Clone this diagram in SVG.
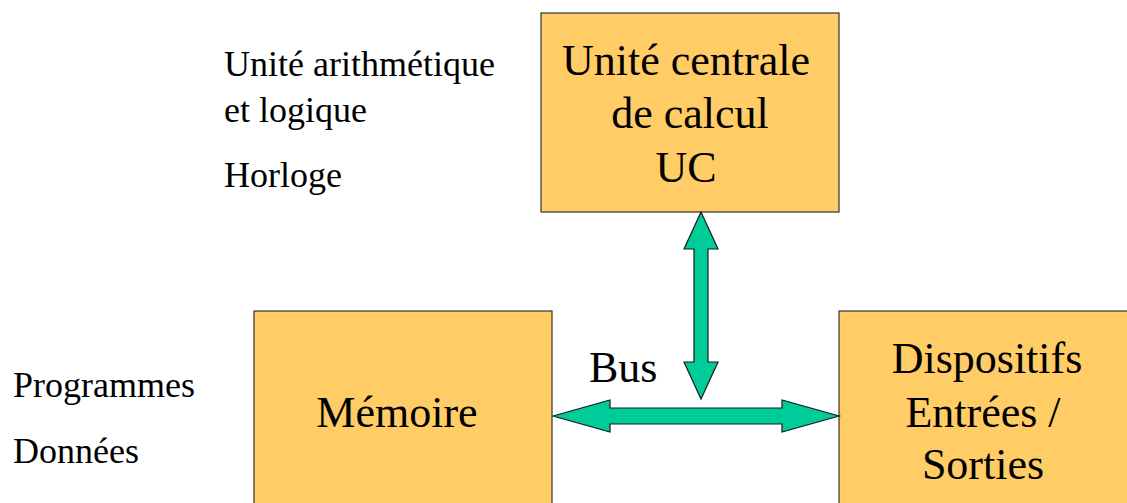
<svg xmlns="http://www.w3.org/2000/svg" width="1127" height="503" viewBox="0 0 1127 503">
  <style>
    .box { fill: #FFCC66; stroke: #333333; stroke-width: 1.2; }
    .bus { fill: #00CC99; stroke: #1a1a1a; stroke-width: 1.2; stroke-linejoin: miter; }
    text { font-family: 'Liberation Serif', Tinos, 'DejaVu Serif', serif; fill: #000; }
    .big { font-size: 44px; }
    .small { font-size: 36px; }
  </style>
  <rect width="1127" height="503" fill="#FFFFFF"/>

  <!-- Side annotations -->
  <g id="notes-uc">
    <text class="small" x="224" y="76">Unité arithmétique</text>
    <text class="small" x="224" y="122">et logique</text>
    <text class="small" x="224" y="187">Horloge</text>
  </g>
  <g id="notes-memoire">
    <text class="small" x="13" y="397">Programmes</text>
    <text class="small" x="13" y="463">Données</text>
  </g>

  <!-- Central processing unit -->
  <g id="node-uc">
    <rect class="box" x="541" y="13" width="298" height="199"/>
    <text class="big" x="686" y="75" text-anchor="middle">Unité centrale</text>
    <text class="big" x="690" y="128" text-anchor="middle">de calcul</text>
    <text class="big" x="686" y="182" text-anchor="middle">UC</text>
  </g>

  <!-- Memory -->
  <g id="node-memoire">
    <rect class="box" x="254" y="311" width="298" height="200"/>
    <text class="big" x="397" y="427" text-anchor="middle">Mémoire</text>
  </g>

  <!-- Input / output devices -->
  <g id="node-es">
    <rect class="box" x="839" y="311" width="300" height="200"/>
    <text class="big" x="987" y="373" text-anchor="middle">Dispositifs</text>
    <text class="big" x="983" y="427" text-anchor="middle">Entrées /</text>
    <text class="big" x="983" y="479" text-anchor="middle">Sorties</text>
  </g>

  <!-- Bus connectors: double-headed block arrows -->
  <g id="connectors">
    <path class="bus" d="M701,212 L718,249 L708,249 L708,362 L718,362 L701,399 L684,362 L694,362 L694,249 L684,249 Z"/>
    <path class="bus" d="M553,416 L610,400 L610,408 L782,408 L782,400 L839,416 L782,432 L782,424 L610,424 L610,432 Z"/>
    <text class="big" x="589" y="382">Bus</text>
  </g>
</svg>
